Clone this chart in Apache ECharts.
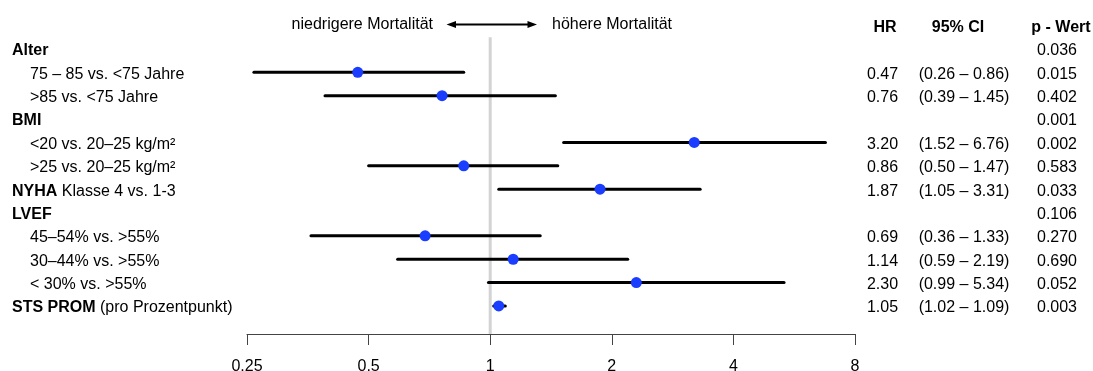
<!DOCTYPE html>
<html><head><meta charset="utf-8">
<script src="https://cdn.jsdelivr.net/npm/echarts@6/dist/echarts.min.js"></script>
<style>html,body{margin:0;padding:0;background:#fff}#c{width:1093px;height:371px}</style>
</head><body><div id="c"></div>
<script>
// ---- data ----
const rowBold = ['Alter', '', '', 'BMI', '', '', 'NYHA', 'LVEF', '', '', '', 'STS PROM'];
const rowText = ['', '75 – 85 vs. <75 Jahre', '>85 vs. <75 Jahre', '', '<20 vs. 20–25 kg/m²', '>25 vs. 20–25 kg/m²',
  ' Klasse 4 vs. 1-3', '', '45–54% vs. >55%', '30–44% vs. >55%', '< 30% vs. >55%', ' (pro Prozentpunkt)'];
const rowIndent = [0, 1, 1, 0, 1, 1, 0, 0, 1, 1, 1, 0];
const hr = [null, 0.47, 0.76, null, 3.20, 0.86, 1.87, null, 0.69, 1.14, 2.30, 1.05];
const lo = [null, 0.26, 0.39, null, 1.52, 0.50, 1.05, null, 0.36, 0.59, 0.99, 1.02];
const hi = [null, 0.86, 1.45, null, 6.76, 1.47, 3.31, null, 1.33, 2.19, 5.34, 1.09];
const pValue = ['0.036', '0.015', '0.402', '0.001', '0.002', '0.583', '0.033', '0.106', '0.270', '0.690', '0.052', '0.003'];
const headers = ['HR', '95% CI', 'p - Wert'];
const xTicks = [0.25, 0.5, 1, 2, 4, 8];
const refValue = 1;
const leftNote = 'niedrigere Mortalität';
const rightNote = 'höhere Mortalität';

// ---- chart ----
const FONT = 'Liberation Sans, Arial, Helvetica, sans-serif';
const FS = 16;
const ROWMAX = 13.2;

const ciData = [], ptData = [];
hr.forEach((v, i) => {
  if (v != null) {
    ciData.push([lo[i], hi[i], i + 1]);
    ptData.push([v, i + 1]);
  }
});

function leftLabel(v) {
  const r = Math.round(v);
  if (Math.abs(v - r) > 1e-6 || r < 1 || r > rowBold.length) return '';
  const i = r - 1;
  let s = '';
  if (rowIndent[i]) s += '{i|\u00a0}';
  if (rowBold[i]) s += '{b|' + rowBold[i] + '}';
  if (rowText[i]) s += '{n|' + rowText[i] + '}';
  return s;
}
function rightLabel(v) {
  const r = Math.round(v);
  if (Math.abs(v - r) > 1e-6 || r < 0 || r > pValue.length) return '';
  if (r === 0) return '{hh|' + headers[0] + '}{ch|' + headers[1] + '}{ph|' + headers[2] + '}';
  const i = r - 1;
  const h = hr[i] == null ? '\u00a0' : hr[i].toFixed(2);
  const c = hr[i] == null ? '\u00a0' : '(' + lo[i].toFixed(2) + ' – ' + hi[i].toFixed(2) + ')';
  return '{hr|' + h + '}{ci|' + c + '}{p|' + pValue[i] + '}';
}

const chart = echarts.init(document.getElementById('c'), null, {renderer: 'canvas'});
chart.setOption({
  animation: false,
  backgroundColor: '#fff',
  textStyle: {fontFamily: FONT},
  grid: {left: 247, right: 238, top: 25.6, bottom: 37, containLabel: false, outerBoundsMode: 'none'},
  xAxis: {
    type: 'log', logBase: 2, min: xTicks[0], max: xTicks[xTicks.length - 1], position: 'bottom',
    axisLine: {show: true, onZero: false, lineStyle: {color: '#444', width: 1}},
    axisTick: {show: true, length: 11, lineStyle: {color: '#444', width: 1}},
    splitLine: {show: false},
    axisLabel: {color: '#000', fontSize: FS, fontFamily: FONT, margin: 25,
      formatter: v => String(+v.toFixed(4)), showMinLabel: true, showMaxLabel: true}
  },
  yAxis: [{
    type: 'value', min: 0, max: ROWMAX, interval: 1, inverse: true, position: 'left',
    axisLine: {show: false}, axisTick: {show: false}, splitLine: {show: false},
    axisLabel: {
      align: 'left', margin: 235, formatter: leftLabel, color: '#000', padding: [4, 0, 0, 0],
      rich: {
        i: {width: 18, fontSize: FS, fontFamily: FONT},
        b: {fontWeight: 'bold', fontSize: FS, fontFamily: FONT, color: '#000'},
        n: {fontSize: FS, fontFamily: FONT, color: '#000'}
      }
    }
  }, {
    type: 'value', min: 0, max: ROWMAX, interval: 1, inverse: true, position: 'right',
    axisLine: {show: false}, axisTick: {show: false}, splitLine: {show: false},
    axisLabel: {
      align: 'left', margin: 0, formatter: rightLabel, color: '#000', padding: [4, 0, 0, 0],
      rich: {
        hr: {width: 55, align: 'right', fontSize: FS, fontFamily: FONT, color: '#000'},
        ci: {width: 108, align: 'center', fontSize: FS, fontFamily: FONT, color: '#000'},
        p: {width: 78, align: 'center', fontSize: FS, fontFamily: FONT, color: '#000'},
        hh: {width: 60, align: 'right', fontSize: FS, fontWeight: 'bold', fontFamily: FONT, color: '#000'},
        ch: {width: 86, align: 'center', fontSize: FS, fontWeight: 'bold', fontFamily: FONT, color: '#000'},
        ph: {width: 120, align: 'center', fontSize: FS, fontWeight: 'bold', fontFamily: FONT, color: '#000'}
      }
    }
  }],
  series: [{
    type: 'line', yAxisIndex: 0, data: [[refValue, 0.5], [refValue, ROWMAX]],
    symbol: 'none', silent: true, z: 1,
    lineStyle: {color: '#d3d3d3', width: 3}
  }, {
    type: 'custom', yAxisIndex: 0, z: 2,
    encode: {x: [0, 1], y: 2},
    data: ciData,
    renderItem: (params, api) => {
      const a = api.coord([api.value(0), api.value(2)]);
      const b = api.coord([api.value(1), api.value(2)]);
      return {type: 'line', shape: {x1: a[0], y1: a[1], x2: b[0], y2: b[1]},
        style: {stroke: '#000', lineWidth: 3, lineCap: 'round'}};
    }
  }, {
    type: 'scatter', yAxisIndex: 0, z: 3, data: ptData,
    symbol: 'circle', symbolSize: 11,
    itemStyle: {color: '#1a3dff', opacity: 1}
  }],
  graphic: [
    {type: 'text', x: 433, y: 25, style: {text: leftNote, font: FS + 'px ' + FONT, fill: '#000', textAlign: 'right', textVerticalAlign: 'middle'}},
    {type: 'text', x: 552, y: 25, style: {text: rightNote, font: FS + 'px ' + FONT, fill: '#000', textAlign: 'left', textVerticalAlign: 'middle'}},
    {type: 'line', shape: {x1: 453, y1: 24.5, x2: 531, y2: 24.5}, style: {stroke: '#000', lineWidth: 2.2}},
    {type: 'polygon', shape: {points: [[446.5, 24.5], [456, 21], [456, 28]]}, style: {fill: '#000'}},
    {type: 'polygon', shape: {points: [[537, 24.5], [527.5, 21], [527.5, 28]]}, style: {fill: '#000'}}
  ]
});
</script></body></html>
